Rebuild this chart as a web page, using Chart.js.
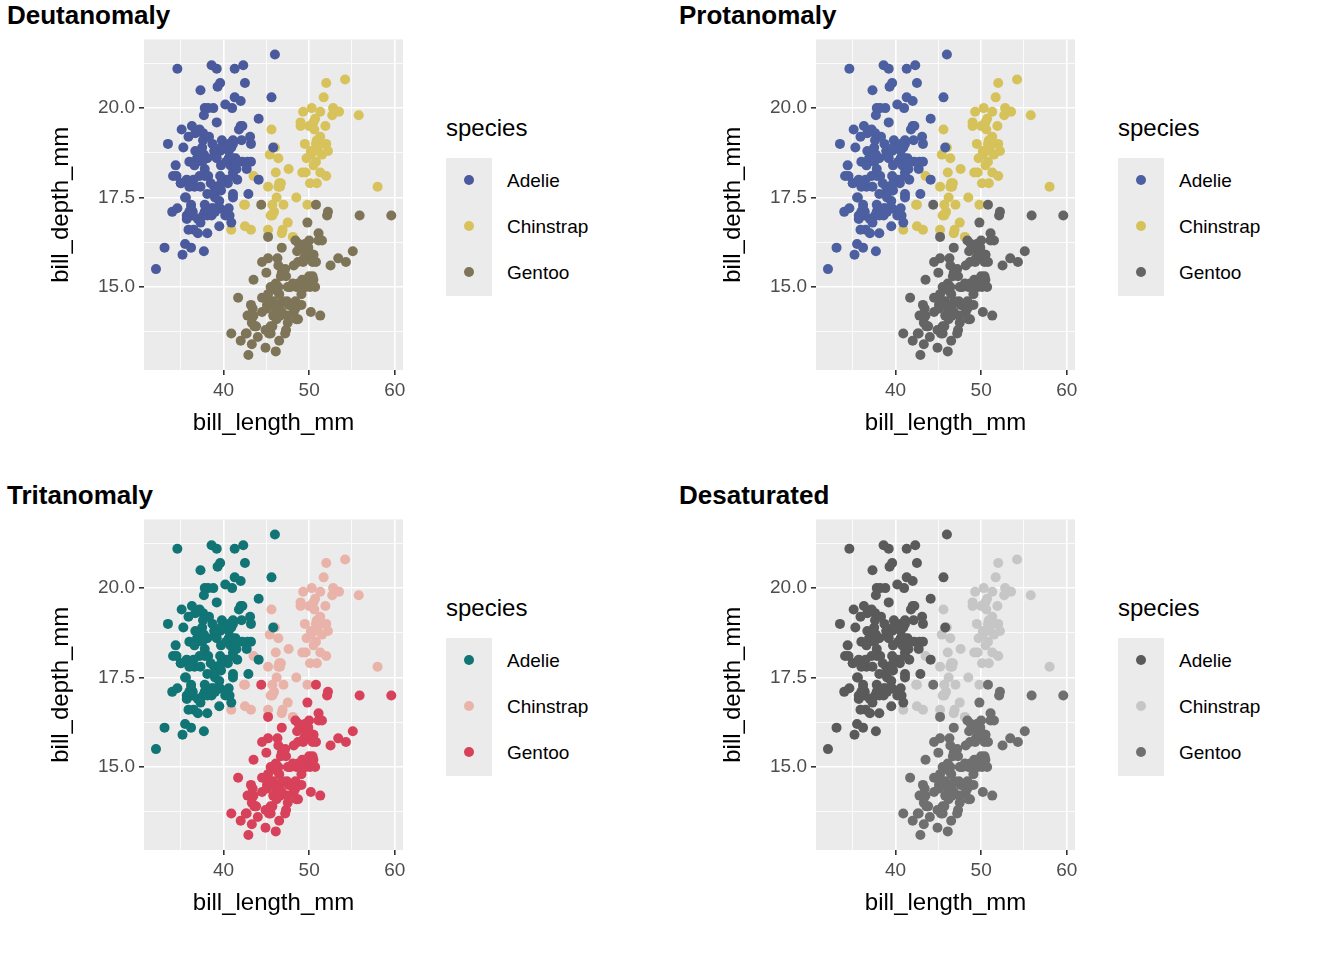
<!DOCTYPE html>
<html>
<head>
<meta charset="utf-8">
<script src="https://cdn.jsdelivr.net/npm/chart.js@4"></script>
<style>
  body { margin: 0; background: #fff; font-family: "Liberation Sans", Arial, sans-serif; }
  #wrap { position: relative; width: 1344px; height: 960px; }
  .panel { position: absolute; width: 672px; height: 480px; }
  .panel canvas { position: absolute; left: 0; top: 24px; }
  .title { position: absolute; left: 7px; top: 0px; font-size: 26px; font-weight: bold; color: #000; }
  .legtitle { position: absolute; left: 446px; top: 114px; font-size: 24px; color: #000; }
  .legbox { position: absolute; left: 446px; top: 158px; width: 46px; height: 138px; background: #ebebeb; }
  .dot { position: absolute; left: 18px; width: 10px; height: 10px; border-radius: 50%; }
  .leglab { position: absolute; left: 507px; font-size: 19px; color: #000; }
</style>
</head>
<body>
<div id="wrap"></div>
<script>
const species = ["Adelie", "Chinstrap", "Gentoo"]
const panelTitles = ["Deutanomaly", "Protanomaly", "Tritanomaly", "Desaturated"]
const panelColours = [
    ["#4a5a9c", "#d7c25c", "#7e7558"],
    ["#4c5fa0", "#d6c25a", "#646464"],
    ["#117475", "#e9b3aa", "#d8415a"],
    ["#5a5a5a", "#c6c6c6", "#6f6f6f"]
]
const xTicks = [40, 50, 60]
const yTicks = [15, 17.5, 20]

const adelieLen = [39.1,39.5,40.3,36.7,39.3,38.9,39.2,34.1,42,37.8,37.8,41.1,38.6,34.6,36.6,38.7,42.5,34.4,46,37.8,37.7,35.9,38.2,38.8,35.3,40.6,40.5,37.9,40.5,39.5,37.2,39.5,40.9,36.4,39.2,38.8,42.2,37.6,39.8,36.5,40.8,36,44.1,37,39.6,41.1,37.5,36,42.3,39.6,40.1,35,42,34.5,41.4,39,40.6,36.5,37.6,35.7,41.3,37.6,41.1,36.4,41.6,35.5,41.1,35.9,41.8,33.5,39.7,39.6,45.8,35.5,42.8,40.9,37.2,36.2,42.1,34.6,42.9,36.7,35.1,37.3,41.3,36.3,36.9,38.3,38.9,35.7,41.1,34,39.6,36.2,40.8,38.1,40.3,33.1,43.2,35,41,37.7,37.8,37.9,39.7,38.6,38.2,38.1,43.2,38.1,45.6,39.7,42.2,39.6,42.7,38.6,37.3,35.7,41.1,36.2,37.7,40.2,41.4,35.2,40.6,38.8,41.5,39,44.1,38.5,43.1,36.8,37.5,38.1,41.1,35.6,40.2,37,39.7,40.2,40.6,32.1,40.7,37.3,39,39.2,36.6,36,37.8,36,41.5]
const adelieDep = [18.7,17.4,18,19.3,20.6,17.8,19.6,18.1,20.2,17.1,17.3,17.6,21.2,21.1,17.8,19,20.7,18.4,21.5,18.3,18.7,19.2,18.1,17.2,18.9,18.6,17.9,18.6,18.9,16.7,18.1,17.8,18.9,17,21.1,20,18.5,19.3,19.1,18,18.4,18.5,19.7,16.9,18.8,19,18.9,17.9,21.2,17.7,18.9,17.9,19.5,18.1,18.6,17.5,18.8,16.6,19.1,16.9,21.1,17,18.2,17.1,18,16.2,19.1,16.6,19.4,19,18.4,17.2,18.9,17.5,18.5,16.8,19.4,16.1,19.1,17.2,17.6,18.8,19.4,17.8,20.3,19.5,18.6,19.2,18.8,18,18.1,17.1,18.1,17.3,18.9,18.6,18.5,16.1,18.5,17.9,20,16,20,18.6,18.9,17.2,20,17,19,16.5,20.3,17.7,19.5,20.7,18.3,17,20.5,17,18.6,17.2,19.8,17,18.5,15.9,19,17.6,18.3,17.1,18,17.9,19.2,18.5,18.5,17.6,17.5,17.5,20.1,16.5,17.9,17.1,17.2,15.5,17,16.8,18.7,18.6,18.4,17.8,18.1,17.1,18.5]
const chinstrapLen = [46.5,50,51.3,45.4,52.7,45.2,46.1,51.3,46,51.3,46.6,51.7,47,52,45.9,50.5,50.3,58,46.4,49.2,42.4,48.5,43.2,50.6,46.7,52,50.5,49.5,46.4,52.8,40.9,54.2,42.5,51,49.7,47.5,47.6,52,46.9,53.5,49,46.2,50.9,45.5,50.9,50.8,50.1,49,51.5,49.8,48.1,51.4,45.7,50.7,42.5,52.2,45.2,49.3,50.2,45.6,51.9,46.8,45.7,55.8,43.5,49.6,50.8,50.2]
const chinstrapDep = [17.9,19.5,19.2,18.7,19.8,17.8,18.2,18.2,18.9,19.9,17.8,20.3,17.3,18.1,17.1,19.6,20,17.8,18.6,18.2,17.3,17.5,16.6,19.4,17.9,19,18.4,19,17.8,20,16.6,20.8,16.7,18.8,18.6,16.8,18.3,20.7,16.6,19.9,19.5,17.5,19.1,17,17.9,18.5,17.9,19.6,18.7,17.3,16.4,19,17.3,19.7,17.3,18.8,16.6,19.9,18.8,19.4,19.5,16.5,17,19.8,18.1,18.2,19,18.7]
const gentooLen = [46.1,50,48.7,50,47.6,46.5,45.4,46.7,43.3,46.8,40.9,49,45.5,48.4,45.8,49.3,42,49.2,46.2,48.7,50.2,45.1,46.5,46.3,42.9,46.1,44.5,47.8,48.2,50,47.3,42.8,45.1,59.6,49.1,48.4,42.6,44.4,44,48.7,42.7,49.6,45.3,49.6,50.5,43.6,45.5,50.5,44.9,45.2,46.6,48.5,45.1,50.1,46.5,45,43.8,45.5,43.2,50.4,45.3,46.2,45.7,54.3,45.8,49.8,46.2,49.5,43.5,50.7,47.7,46.4,48.2,46.5,46.4,48.6,47.5,51.1,45.2,45.2,49.1,52.5,47.4,50,44.9,50.8,43.4,51.3,47.5,52.1,47.5,52.2,45.5,49.5,44.5,50.8,49.4,46.9,48.4,51.1,48.5,55.9,47.2,49.1,47.3,46.8,41.7,53.4,43.3,48.1,50.5,49.8,43.5,51.5,46.2,55.1,44.5,48.8,47.2,46.8,50.4,45.2,49.9]
const gentooDep = [13.2,16.3,14.1,15.2,14.5,13.5,14.6,15.3,13.4,15.4,13.7,16.1,13.7,14.6,14.6,15.7,13.5,15.2,14.5,15.1,14.3,14.5,14.5,15.8,13.1,15.1,14.3,15,14.3,15.3,15.3,14.2,14.5,17,14.8,16.3,13.7,17.3,13.6,15.7,13.7,16,13.7,15,15.9,13.9,13.9,15.9,13.3,15.8,14.2,14.1,14.4,15,14.4,15.4,13.9,15,14.5,15.3,13.8,14.9,13.9,15.7,14.2,16.8,14.4,16.2,14.2,15,15,15.6,15.6,14.8,15,16,14.2,16.3,13.8,16.4,14.5,15.6,14.6,15.9,13.8,17.3,14.4,14.2,14,17,15,17.1,14.5,16.1,14.7,15.7,15.8,14.6,14.4,16.5,15,17,15.5,15,13.8,16.1,14.7,15.8,14,15.1,15.2,15.9,15.2,16.3,14.1,16,15.7,16.2,13.7,14.3,15.7,14.8,16.1]

const seriesLen = [adelieLen, chinstrapLen, gentooLen]
const seriesDep = [adelieDep, chinstrapDep, gentooDep]
const xMinor = [35, 45, 55]
const yMinor = [13.75, 16.25, 18.75, 21.25]

const plotBg = {
    id: "plotBg",
    beforeDraw(chart) {
        const a = chart.chartArea
        chart.ctx.save()
        chart.ctx.fillStyle = "#ebebeb"
        chart.ctx.fillRect(a.left, a.top, a.right - a.left, a.bottom - a.top)
        chart.ctx.restore()
    }
}

function axis(title, min, max, majors, minors, fit, fmt) {
    const all = majors.concat(minors).sort((a, b) => a - b)
    return {
        min, max,
        afterBuildTicks: s => { s.ticks = all.map(v => ({ value: v })) },
        afterFit: fit,
        ticks: {
            autoSkip: false, maxRotation: 0, color: "#4d4d4d", padding: 4,
            font: { size: 19, family: "Liberation Sans" },
            callback: v => majors.includes(v) ? fmt(v) : ""
        },
        grid: {
            color: "#ffffff",
            lineWidth: c => majors.includes(c.tick && c.tick.value) ? 1.6 : 0.8,
            tickColor: c => majors.includes(c.tick && c.tick.value) ? "#333333" : "rgba(0,0,0,0)",
            tickLength: 5,
            drawTicks: true
        },
        border: { display: false },
        title: { display: true, text: title, color: "#000", font: { size: 24, family: "Liberation Sans" }, padding: 0 }
    }
}

const wrap = document.getElementById("wrap")
panelTitles.forEach((name, p) => {
    const div = document.createElement("div")
    div.className = "panel"
    div.style.left = (p % 2) * 672 + "px"
    div.style.top = Math.floor(p / 2) * 480 + "px"
    let html = `<div class="title">${name}</div><canvas width="410" height="420" style="width:410px;height:420px"></canvas>`
    html += `<div class="legtitle">species</div><div class="legbox">`
    species.forEach((s, i) => {
        html += `<div class="dot" style="top:${17 + i * 46}px;background:${panelColours[p][i]}"></div>`
    })
    html += `</div>`
    species.forEach((s, i) => {
        html += `<div class="leglab" style="top:${170 + i * 46}px">${s}</div>`
    })
    div.innerHTML = html
    wrap.appendChild(div)

    const order = [0, 2, 1]
    new Chart(div.querySelector("canvas"), {
        type: "scatter",
        data: {
            datasets: order.map(i => ({
                label: species[i],
                data: seriesLen[i].map((x, k) => ({ x, y: seriesDep[i][k] })),
                backgroundColor: panelColours[p][i],
                borderWidth: 0,
                pointRadius: 5
            }))
        },
        options: {
            responsive: false,
            animation: false,
            layout: { padding: { top: 14, right: 7, left: 47, bottom: 6 } },
            plugins: { legend: { display: false }, tooltip: { enabled: false } },
            scales: {
                x: axis("bill_length_mm", 30.7, 60.97, xTicks, xMinor, s => { s.height = 68 }, v => String(v)),
                y: axis("bill_depth_mm", 12.68, 21.92, yTicks, yMinor, s => { s.width = 97 }, v => v.toFixed(1))
            }
        },
        plugins: [plotBg]
    })
})
</script>
</body>
</html>
